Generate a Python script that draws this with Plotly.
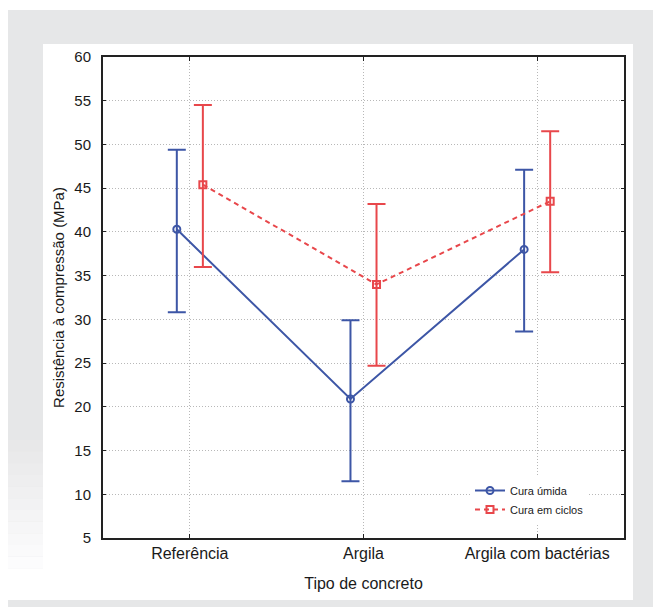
import plotly.graph_objects as go

categories = ["Referência", "Argila", "Argila com bactérias"]
umida_mean = [40.3, 20.9, 38.0]
umida_upper = [49.4, 29.9, 47.1]
umida_lower = [30.8, 11.5, 28.6]
ciclos_mean = [45.4, 34.0, 43.5]
ciclos_upper = [54.5, 43.2, 51.5]
ciclos_lower = [36.0, 24.7, 35.4]
y_ticks = [5, 10, 15, 20, 25, 30, 35, 40, 45, 50, 55, 60]

OFF = 8  # page body margin
W, H = 661 - OFF, 615 - OFF
L, R, T, B = 103 - OFF, 624 - OFF, 57 - OFF, 538 - OFF

def px(x):
    return (x - OFF - L) / (R - L)

def py(y):
    return (B - (y - OFF)) / (B - T)

BLUE = "#3d56a6"
RED = "#e8474b"
idx = list(range(len(categories)))

fig = go.Figure()
fig.add_trace(go.Scatter(
    x=[i - 0.075 for i in idx], y=umida_mean, name="Cura úmida",
    mode="lines+markers",
    line=dict(color=BLUE, width=2),
    marker=dict(symbol="circle-open", size=7, color=BLUE, line=dict(width=2)),
    error_y=dict(type="data", symmetric=False,
                 array=[u - m for u, m in zip(umida_upper, umida_mean)],
                 arrayminus=[m - l for m, l in zip(umida_mean, umida_lower)],
                 color=BLUE, thickness=2, width=9),
))
fig.add_trace(go.Scatter(
    x=[i + 0.075 for i in idx], y=ciclos_mean, name="Cura em ciclos",
    mode="lines+markers",
    line=dict(color=RED, width=2, dash="5px,4px"),
    marker=dict(symbol="square-open", size=7, color=RED, line=dict(width=2)),
    error_y=dict(type="data", symmetric=False,
                 array=[u - m for u, m in zip(ciclos_upper, ciclos_mean)],
                 arrayminus=[m - l for m, l in zip(ciclos_mean, ciclos_lower)],
                 color=RED, thickness=2, width=9),
))

shapes = []
shapes.append(dict(type="rect", xref="paper", yref="paper", layer="below",
                   x0=px(8), x1=px(661), y0=py(607), y1=py(10),
                   fillcolor="#e6e7e8", line=dict(width=0)))
shapes.append(dict(type="rect", xref="paper", yref="paper", layer="below",
                   x0=px(43), x1=px(633), y0=py(600), y1=py(44),
                   fillcolor="#ffffff", line=dict(width=0)))
# soft fade of left strip toward bottom
n = 12
band_top, band_bot = 440, 580
for k in range(n):
    t = (k + 1) / n
    g = int(0xe6 + (0xff - 0xe6) * t)
    c = "#%02x%02x%02x" % (g, g, min(255, g + 1))
    y0 = band_top + (band_bot - band_top) * k / n
    y1 = 600 if k == n - 1 else band_top + (band_bot - band_top) * (k + 1) / n
    shapes.append(dict(type="rect", xref="paper", yref="paper", layer="below",
                       x0=px(8), x1=px(43), y0=py(y1), y1=py(y0),
                       fillcolor=c, line=dict(width=0)))

GRID = "#b8b8b8"
fig.update_layout(
    width=W, height=H,
    margin=dict(l=L, r=W - R, t=T, b=H - B, pad=0),
    paper_bgcolor="#ffffff",
    plot_bgcolor="#ffffff",
    font=dict(family="Liberation Sans, Arial, sans-serif", color="#1a1a1a", size=15),
    shapes=shapes,
    showlegend=True,
    legend=dict(x=px(470), y=py(476), xanchor="left", yanchor="top",
                bgcolor="#ffffff", borderwidth=0,
                font=dict(size=11, color="#1a1a1a"),
                itemwidth=30, tracegroupgap=0),
    xaxis=dict(
        range=[-0.5, 2.5], tickmode="array", tickvals=idx, ticktext=categories,
        showline=True, linecolor="#222222", linewidth=2, mirror="allticks",
        ticks="inside", ticklen=4, tickcolor="#222222",
        showgrid=True, gridcolor=GRID, griddash="1px,2px", gridwidth=1,
        zeroline=False, tickfont=dict(size=16),
        title=dict(text="Tipo de concreto", font=dict(size=16), standoff=17),
    ),
    yaxis=dict(
        range=[5, 60], tickvals=y_ticks,
        showline=True, linecolor="#222222", linewidth=2, mirror="allticks",
        ticks="inside", ticklen=3, tickcolor="#222222",
        showgrid=True, gridcolor=GRID, griddash="1px,2px", gridwidth=1,
        zeroline=False, tickfont=dict(size=15), ticklabelstandoff=7,
        title=dict(text="Resistência à compressão (MPa)", font=dict(size=15), standoff=6),
    ),
)

fig.write_html("out.html")
